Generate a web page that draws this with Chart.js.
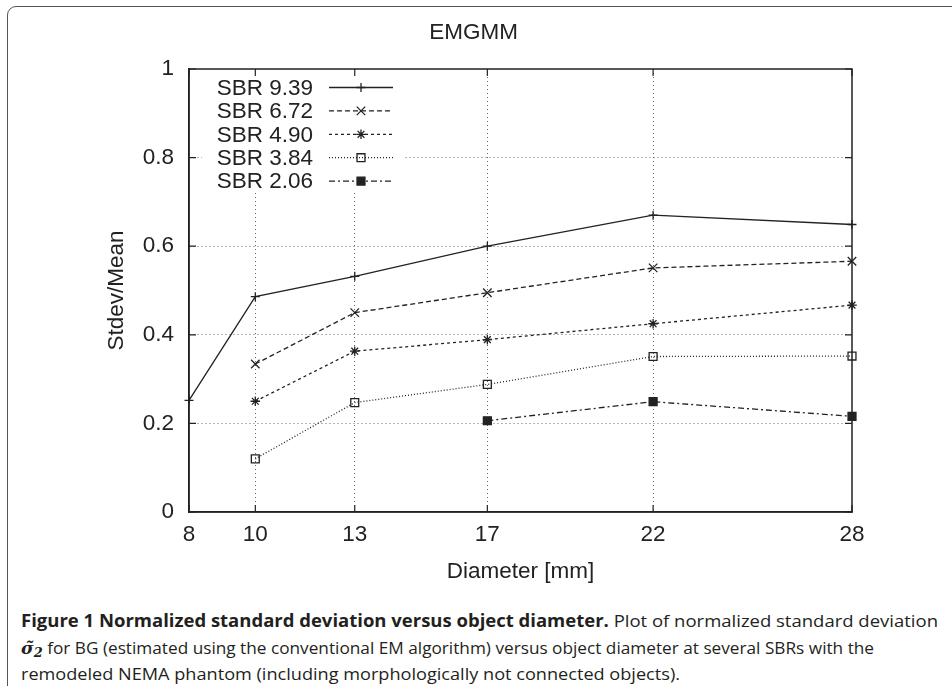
<!DOCTYPE html>
<html lang="en">
<head>
<meta charset="UTF-8">
<title>EMGMM</title>
<style>
  body { margin: 0; background: #fff; width: 952px; height: 686px; overflow: hidden; position: relative; }
  #frame { position: absolute; left: 7px; top: 6px; width: 1000px; height: 720px; border: 1.5px solid #555; border-top-left-radius: 9px; box-sizing: border-box; }
  #chart { position: absolute; left: 0; top: 0; }
  #caption { position: absolute; left: 21px; top: 608px; font-family: "Open Sans", sans-serif; font-size: 17px; line-height: 26.5px; color: #231f20; }
  #caption div { white-space: nowrap; width: max-content; transform-origin: 0 50%; }
  .sig { font-family: "DejaVu Serif", serif; font-weight: bold; font-style: italic; }
  .sig sub { font-size: 0.75em; vertical-align: -0.2em; line-height: 0; }
</style>
</head>
<body>
<div id="frame"></div>
<canvas id="chart" width="952" height="600"></canvas>
<div id="caption">
  <div data-w="917"><b>Figure 1 Normalized standard deviation versus object diameter.</b> Plot of normalized standard deviation</div>
  <div data-w="853"><span class="sig">σ̃<sub>2</sub></span> for BG (estimated using the conventional EM algorithm) versus object diameter at several SBRs with the</div>
  <div data-w="659">remodeled NEMA phantom (including morphologically not connected objects).</div>
</div>

<script src="https://cdn.jsdelivr.net/npm/chart.js"></script>
<script>
// data
const diameters = [8, 10, 13, 17, 22, 28];
const seriesNames = ['SBR 9.39', 'SBR 6.72', 'SBR 4.90', 'SBR 3.84', 'SBR 2.06'];
const sbr939 = [0.252, 0.486, 0.532, 0.600, 0.670, 0.649];
const sbr672 = [null, 0.334, 0.450, 0.495, 0.551, 0.566];
const sbr490 = [null, 0.250, 0.363, 0.389, 0.425, 0.467];
const sbr384 = [null, 0.120, 0.247, 0.288, 0.351, 0.352];
const sbr206 = [null, null, null, 0.206, 0.249, 0.216];
const yTicks = [0, 0.2, 0.4, 0.6, 0.8, 1];

// line styles (gnuplot-ish)
const ink = '#222';
const dashes = [[], [5, 3], [3, 3], [1, 2], [6, 3, 2, 3]];
const markers = ['cross', 'crossRot', 'star', 'rect', 'rect'];
const markerSize = [4.5, 6, 4.8, 5.6, 5.6];
const markerFill = ['#fff', '#fff', '#fff', 'rgba(0,0,0,0)', ink];

function toPoints(vals) {
    return diameters.map((d, i) => ({ x: d, y: vals[i] })).filter(p => p.y !== null);
}

const allSeries = [sbr939, sbr672, sbr490, sbr384, sbr206];
const datasets = allSeries.map((vals, i) => ({
    label: seriesNames[i],
    data: toPoints(vals),
    borderColor: ink,
    borderWidth: 1.3,
    borderDash: dashes[i],
    pointStyle: markers[i],
    pointRadius: markerSize[i],
    pointBorderWidth: 1.3,
    pointBorderColor: ink,
    pointBackgroundColor: markerFill[i],
    fill: false,
    tension: 0,
    clip: false
}));

function drawMarker(ctx, i, x, y) {
    ctx.save();
    ctx.setLineDash([]);
    ctx.strokeStyle = ink;
    ctx.fillStyle = markerFill[i];
    ctx.lineWidth = 1.3;
    Chart.helpers.drawPoint(ctx, { pointStyle: markers[i], radius: markerSize[i], rotation: 0, borderWidth: 1.3 }, x, y);
    ctx.restore();
}

// legend in the top-left corner with a white box, plus frame and inward ticks
const gnuplotBits = {
    id: 'gnuplotBits',
    afterDatasetsDraw(chart) {
        const ctx = chart.ctx;
        const a = chart.chartArea;
        ctx.save();
        ctx.fillStyle = '#fff';
        ctx.fillRect(a.left + 13, a.top + 1, 202, 122);
        ctx.font = '22.5px "Liberation Sans", Arial, sans-serif';
        ctx.textAlign = 'right';
        ctx.textBaseline = 'middle';
        ctx.fillStyle = ink;
        seriesNames.forEach((name, i) => {
            const y = a.top + 18.5 + i * 23.4;
            ctx.fillText(name, a.left + 124, y + 1);
            ctx.beginPath();
            ctx.setLineDash(dashes[i]);
            ctx.strokeStyle = ink;
            ctx.lineWidth = 1.3;
            ctx.moveTo(a.left + 140, y);
            ctx.lineTo(a.left + 204, y);
            ctx.stroke();
            drawMarker(ctx, i, a.left + 172, y);
        });
        ctx.restore();
    },
    afterDraw(chart) {
        const ctx = chart.ctx;
        const a = chart.chartArea;
        const xs = chart.scales.x, ys = chart.scales.y;
        ctx.save();
        ctx.strokeStyle = '#222';
        ctx.lineWidth = 1.5;
        ctx.setLineDash([]);
        ctx.strokeRect(a.left, a.top, a.right - a.left, a.bottom - a.top);
        ctx.lineWidth = 1.2;
        ctx.beginPath();
        diameters.forEach(d => {
            const px = xs.getPixelForValue(d);
            ctx.moveTo(px, a.bottom); ctx.lineTo(px, a.bottom - 7);
            ctx.moveTo(px, a.top); ctx.lineTo(px, a.top + 7);
        });
        yTicks.forEach(v => {
            const py = ys.getPixelForValue(v);
            ctx.moveTo(a.left, py); ctx.lineTo(a.left + 7, py);
            ctx.moveTo(a.right, py); ctx.lineTo(a.right - 7, py);
        });
        ctx.stroke();
        ctx.restore();
    }
};

const tickFont = { family: '"Liberation Sans", Arial, sans-serif', size: 22.5 };
const inner = (v, ends) => ends.includes(v) ? 'rgba(0,0,0,0)' : '#666';

new Chart(document.getElementById('chart'), {
    type: 'line',
    data: { datasets: datasets },
    options: {
        responsive: false,
        animation: false,
        layout: { padding: { left: 95, right: 100, top: 0, bottom: 0 } },
        plugins: {
            legend: { display: false },
            tooltip: { enabled: false },
            title: {
                display: true,
                text: 'EMGMM',
                color: ink,
                font: { family: tickFont.family, size: 22.5, weight: 'normal' },
                padding: { top: 19.5, bottom: 22.5 }
            }
        },
        scales: {
            x: {
                type: 'linear',
                min: 8,
                max: 28,
                afterBuildTicks: s => { s.ticks = diameters.map(v => ({ value: v })); },
                afterFit: s => { s.height = 88; },
                ticks: { color: ink, font: tickFont, padding: 9, maxRotation: 0, autoSkip: false, callback: v => String(v) },
                grid: { drawTicks: false, lineWidth: 1, color: c => inner(c.tick.value, [8, 28]) },
                border: { display: true, color: '#222', width: 1.5, dash: [1, 3] },
                title: { display: true, text: 'Diameter [mm]', color: ink, font: tickFont, padding: { top: 0, bottom: 14.5 } }
            },
            y: {
                min: 0,
                max: 1,
                afterBuildTicks: s => { s.ticks = yTicks.map(v => ({ value: v })); },
                afterFit: s => { s.width = 94; },
                ticks: { color: ink, font: tickFont, padding: 15, callback: v => String(Number(v.toFixed(1))) },
                grid: { drawTicks: false, lineWidth: 1, color: c => inner(c.tick.value, [0, 1]) },
                border: { display: true, color: '#222', width: 1.5, dash: [1, 3] },
                title: { display: true, text: 'Stdev/Mean', color: ink, font: tickFont, padding: { top: 8.5, bottom: 0 } }
            }
        }
    },
    plugins: [gnuplotBits]
});

// squeeze caption lines to the widths they have in the figure
document.querySelectorAll('#caption div').forEach(el => {
    const w = el.getBoundingClientRect().width;
    el.style.transform = 'scaleX(' + (Number(el.dataset.w) / w) + ')';
});
</script>
</body>
</html>
